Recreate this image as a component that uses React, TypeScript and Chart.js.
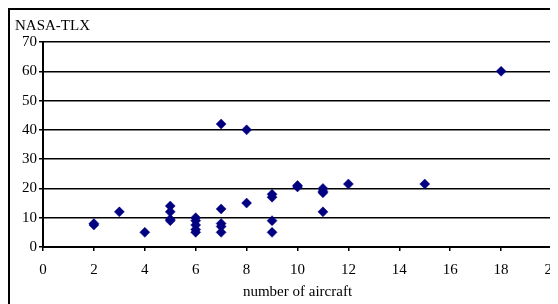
import React, { useEffect, useRef } from "react";
import { Chart, registerables } from "chart.js";

Chart.register(...registerables);

const aircraftCounts = [2, 2, 3, 4, 5, 5, 5, 5, 6, 6, 6, 6, 6, 7, 7, 7, 7, 7, 8, 8, 9, 9, 9, 9, 10, 10, 11, 11, 11, 11, 12, 15, 18];
const tlxScores = [7.5, 8, 12, 5, 14, 12, 9.5, 9, 10, 9, 7.5, 6, 5, 42, 13, 8, 7, 5, 40, 15, 18, 17, 9, 5, 21, 20.5, 20, 19, 18.5, 12, 21.5, 21.5, 60];
const yAxisLabel = "NASA-TLX";
const xAxisLabel = "number of aircraft";

const FONT = "'Liberation Serif', 'Times New Roman', serif";

export default function App() {
  const ref = useRef<HTMLCanvasElement | null>(null);

  useEffect(() => {
    if (!ref.current) return;
    const points = aircraftCounts.map((x, i) => ({ x, y: tlxScores[i] }));
    const labelPlugin = {
      id: "yLabel",
      afterDraw(chart: any) {
        const ctx = chart.ctx;
        ctx.save();
        ctx.font = `15px ${FONT}`;
        ctx.fillStyle = "#000";
        ctx.textAlign = "left";
        ctx.textBaseline = "alphabetic";
        ctx.fillText(yAxisLabel, 5, 19.5);
        ctx.restore();
      },
    };
    const chart = new Chart(ref.current, {
      type: "scatter",
      data: {
        datasets: [
          {
            data: points,
            pointStyle: "rectRot",
            pointRadius: 5,
            pointBackgroundColor: "#000080",
            pointBorderColor: "#000080",
            pointBorderWidth: 0.5,
          },
        ],
      },
      options: {
        animation: false,
        responsive: false,
        layout: { padding: { top: 32, right: 14, left: 0, bottom: 0 } },
        plugins: { legend: { display: false }, tooltip: { enabled: false } },
        scales: {
          x: {
            type: "linear",
            min: 0,
            max: 20,
            ticks: {
              stepSize: 2,
              color: "#000",
              font: { family: FONT, size: 15 },
              padding: 10,
              maxRotation: 0,
            },
            grid: {
              drawOnChartArea: true,
              color: (c: any) => (c.tick && c.tick.value === 20 ? "#000" : "rgba(0,0,0,0)"),
              tickColor: "#000",
              tickLength: 4,
              lineWidth: 1.5,
            },
            border: { color: "#000", width: 2 },
            title: {
              display: true,
              text: xAxisLabel,
              color: "#000",
              font: { family: FONT, size: 15 },
              padding: { top: 0, bottom: 5 },
            },
            afterFit: (s: any) => {
              s.height = 59;
              s.paddingLeft = 0;
              s.paddingRight = 0;
            },
          },
          y: {
            type: "linear",
            min: 0,
            max: 70,
            ticks: {
              stepSize: 10,
              color: "#000",
              font: { family: FONT, size: 15 },
              padding: 2,
            },
            grid: {
              color: "#000",
              tickColor: "#000",
              tickLength: 4,
              lineWidth: 1.5,
            },
            border: { color: "#000", width: 2 },
            afterFit: (s: any) => {
              s.width = 33;
              s.paddingTop = 0;
              s.paddingBottom = 0;
            },
          },
        },
      },
      plugins: [labelPlugin],
    });
    return () => chart.destroy();
  }, []);

  return (
    <div
      style={{
        width: 560,
        height: 300,
        boxSizing: "border-box",
        border: "2px solid #000",
        background: "#fff",
      }}
    >
      <canvas ref={ref} width={556} height={296} style={{ display: "block" }} />
    </div>
  );
}
